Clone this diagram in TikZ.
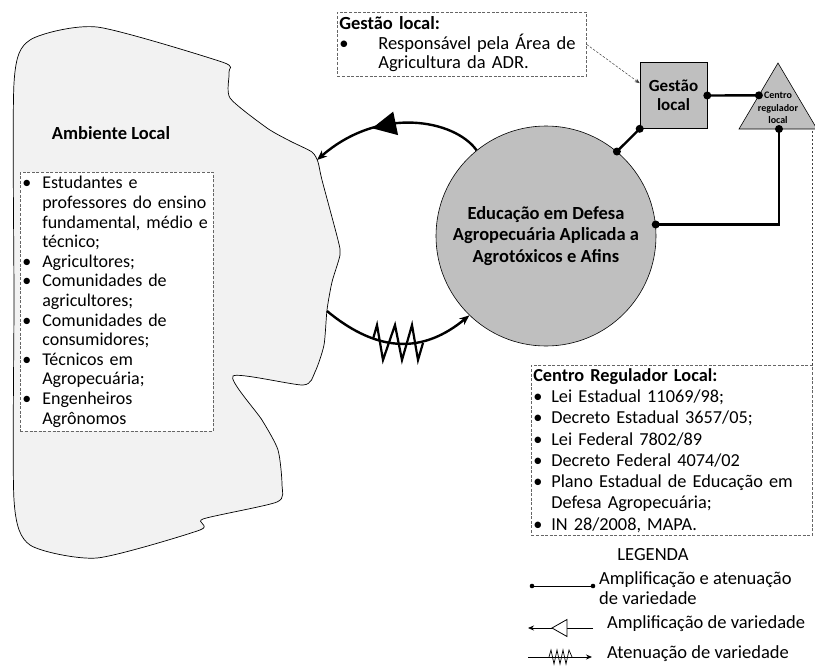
\documentclass[tikz,border=0pt]{standalone}
\usepackage{fontspec}
\setmainfont{Carlito}
\usetikzlibrary{arrows.meta,shapes.geometric,decorations.markings,calc}

% bullet in a box of the given width
\newcommand{\bpt}[1]{\makebox[#1][l]{\textbullet}}

\begin{document}
\begin{tikzpicture}[x=1pt,y=-1pt,
  blobshape/.style={draw=black, line width=0.7pt, fill=gray!10},
  notebox/.style={draw=black!60, dash pattern=on 3pt off 1.6pt, line width=0.6pt,
    fill=white, inner xsep=2pt, align=left, anchor=north west},
  unit/.style={draw=black, line width=0.6pt, fill=gray!50},
  link/.style={line width=2.4pt},
  dot/.style={fill=black},
  flow/.style={line width=2.4pt, -{Stealth[length=10pt,width=8pt]}},
  hint/.style={draw=black!75, dash pattern=on 2.5pt off 1.5pt, line width=0.5pt},
  sample/.style={line width=0.8pt},
  tight/.code={\lineskiplimit=-50pt},
]
\useasboundingbox (0,0) rectangle (815,665);

% ---- local environment (irregular region) ----
\draw[blobshape] plot[smooth cycle, tension=0.4] coordinates {
  (30,40) (97,27) (222,62) (229,72) (230,98) (267,128) (290,141) (312,152)
  (318,162) (322,180) (338,240) (340,255) (332,282) (327,310) (324,345)
  (315,372) (303,385) (233,376) (262,420) (278,450) (282,485) (277,502)
  (203,519) (200,530) (97,558) (30,545) (14,500) (14,300) (14,83)};
\coordinate (ambOut) at (317,160);
\coordinate (ambIn) at (327,311);

\node[font=\bfseries\fontsize{18.5}{20}\selectfont] (amb) at (111,133) {Ambiente Local};

\node[notebox, tight, font=\fontsize{18}{19.6}\selectfont, text width=189pt, inner ysep=4pt] (publico) at (20,172) {%
\bpt{20pt}Estudantes e\\
\hspace*{20pt}professores do ensino\\
\hspace*{20pt}fundamental, médio e\\
\hspace*{20pt}técnico;\\
\bpt{20pt}Agricultores;\\
\bpt{20pt}Comunidades de\\
\hspace*{20pt}agricultores;\\
\bpt{20pt}Comunidades de\\
\hspace*{20pt}consumidores;\\
\bpt{20pt}Técnicos em\\
\hspace*{20pt}Agropecuária;\\
\bpt{20pt}Engenheiros\\
\hspace*{20pt}Agrônomos};

% ---- system in focus ----
\node[unit, circle, minimum size=220pt, align=center,
  font=\bfseries\fontsize{18.5}{21.5}\selectfont] (edu) at (546,236)
  {Educação em Defesa\\Agropecuária Aplicada a\\Agrotóxicos e Afins};

\node[unit, minimum width=67pt, minimum height=66pt, align=center,
  font=\bfseries\fontsize{17}{19}\selectfont] (gl) at (673.5,95.5) {Gestão\\local};

% regulator triangle
\coordinate (triTop) at (778,63);
\coordinate (triL) at (739,129);
\coordinate (triR) at (817,129);
\draw[unit] (triTop) -- (triL) -- (triR) -- cycle;
\node[font=\bfseries\fontsize{10}{12.5}\selectfont, align=center] (crlTxt) at (778,108) {Centro\\regulador\\local};
\coordinate (triSide) at ($(triTop)!0.49!(triL)$);
\coordinate (triBase) at (779,129);

% ---- links ----
\draw[link] (gl.east) -- (triSide);
\fill[dot] (gl.east) circle (4pt) (triSide) circle (4pt);
\draw[link] (edu.50) -- (gl.south west);
\fill[dot] (edu.50) circle (4pt) (gl.south west) circle (4pt);
\draw[link] (edu.6) -| (triBase);
\fill[dot] (edu.6) circle (4pt) (triBase) circle (4pt);

% amplification loop (top) and attenuation loop (bottom)
\draw[flow, postaction={decorate}, decoration={markings,
    mark=at position 0.57 with {\fill (12pt,0pt) -- (-12pt,12pt) -- (-12pt,-12pt) -- cycle;}}]
  (edu.129) .. controls (455,120) and (380,105) .. (ambOut);
\draw[flow] (ambIn) .. controls (380,355) and (425,352) .. (edu.226);
\draw[line width=2.2pt] (373,339) -- (377,325) -- (383,360) -- (395,325) -- (402,360)
  -- (412,325) -- (418,360) -- (423,343);

% ---- notes ----
\node[notebox, tight, font=\fontsize{18.5}{19.5}\selectfont, text width=245pt, inner ysep=4.5pt] (gnote) at (337,12) {%
\textbf{Gestão local:}\\
\bpt{39pt}Responsável pela Área de\\
\hspace*{39pt}Agricultura da ADR.};
\draw[hint, -{Stealth[length=5pt,width=4pt]}] (gnote.east) -- (gl.160);

\node[notebox, tight, font=\fontsize{18.3}{21.3}\selectfont, text width=277pt, inner ysep=3pt] (crl) at (531,365) {%
\textbf{Centro Regulador Local:}\\
\bpt{18pt}Lei Estadual 11069/98;\\
\bpt{18pt}Decreto Estadual 3657/05;\\
\bpt{18pt}Lei Federal 7802/89\\
\bpt{18pt}Decreto Federal 4074/02\\
\bpt{18pt}Plano Estadual de Educação em\\
\hspace*{18pt}Defesa Agropecuária;\\
\bpt{18pt}IN 28/2008, MAPA.};
\draw[hint] (crl.north east) -- (crl.north east |- triR);

% ---- legend ----
\node[font=\fontsize{18.5}{20}\selectfont] (leg) at (653,555) {LEGENDA};

\coordinate (l1a) at (532,586);
\coordinate (l1b) at (593,586);
\draw[sample] (l1a) -- (l1b);
\fill[dot] (l1a) circle (2.3pt) (l1b) circle (2.3pt);
\node[anchor=north west, align=left, font=\fontsize{18.5}{20}\selectfont, inner sep=0pt] (l1t) at (599,571) {Amplificação e atenuação\\de variedade};

\coordinate (l2a) at (593,628);
\coordinate (l2b) at (528,628);
\draw[sample, -{Stealth[length=6pt,width=5pt]}] (l2a) -- (l2b);
\draw[sample, fill=white] (552,628) -- (567,619.5) -- (567,636.5) -- cycle;
\node[anchor=west, font=\fontsize{18.5}{20}\selectfont, inner sep=0pt] (l2t) at (607,624) {Amplificação de variedade};

\coordinate (l3a) at (528,657);
\coordinate (l3b) at (592,657);
\draw[sample, -{Stealth[length=6pt,width=5pt]}] (l3a) -- (l3b);
\draw[line width=0.7pt] (549,657) -- (551,650) -- (554,664) -- (557,650) -- (560,664)
  -- (563,650) -- (566,664) -- (569,650) -- (572,657);
\node[anchor=west, font=\fontsize{18.5}{20}\selectfont, inner sep=0pt] (l3t) at (607,654) {Atenuação de variedade};
\end{tikzpicture}
\end{document}
